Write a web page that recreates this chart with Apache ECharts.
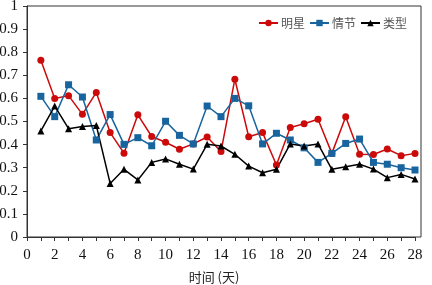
<!DOCTYPE html>
<html>
<head>
<meta charset="utf-8">
<script src="https://cdn.jsdelivr.net/npm/echarts@6/dist/echarts.min.js"></script>
<style>
  html, body { margin: 0; padding: 0; background: #fff; }
  #chart { width: 432px; height: 285px; }
</style>
</head>
<body>
<div id="chart"></div>
<script>
// 时间 (天)
const days = Array.from({ length: 28 }, (_, i) => i + 1);
const starValues = [0.765, 0.60, 0.612, 0.531, 0.626, 0.452, 0.363, 0.529, 0.435, 0.41, 0.38, 0.403, 0.433, 0.37,
  0.683, 0.434, 0.452, 0.312, 0.474, 0.49, 0.51, 0.362, 0.521, 0.358, 0.357, 0.381, 0.352, 0.362];
const plotValues = [0.609, 0.521, 0.659, 0.606, 0.42, 0.53, 0.401, 0.43, 0.395, 0.501, 0.44, 0.403, 0.567, 0.521,
  0.60, 0.568, 0.403, 0.449, 0.42, 0.386, 0.323, 0.362, 0.405, 0.424, 0.323, 0.315, 0.30, 0.29];
const typeValues = [0.459, 0.567, 0.469, 0.478, 0.483, 0.232, 0.293, 0.247, 0.323, 0.338, 0.315, 0.294, 0.401, 0.394,
  0.358, 0.307, 0.278, 0.293, 0.403, 0.394, 0.403, 0.293, 0.304, 0.315, 0.294, 0.257, 0.271, 0.251];
const seriesNames = ["明星", "情节", "类型"];

const chart = echarts.init(document.getElementById("chart"));
const numFont = "'Liberation Serif', 'DejaVu Serif', serif";
const cjkFont = "'Noto Sans CJK SC', sans-serif";

const pairs = (vals) => days.map((d, i) => [d, vals[i]]);

chart.setOption({
  animation: false,
  grid: [
    // outer frame
    { left: 27, right: 11, top: 6, bottom: 48, show: true, borderColor: "#333", borderWidth: 1, outerBoundsMode: "none" },
    // data area
    { left: 27, right: 17, top: 6, bottom: 48, outerBoundsMode: "none" },
  ],
  legend: {
    data: seriesNames,
    right: 20,
    top: 12,
    itemWidth: 19,
    itemHeight: 8,
    itemGap: 4,
    textStyle: { fontFamily: cjkFont, fontSize: 12, color: "#555", padding: [0, 0, 0, -2] },
  },
  xAxis: [
    { gridIndex: 0, type: "value", show: false, min: 0, max: 1 },
    {
      gridIndex: 1,
      type: "value",
      min: 0,
      max: 28,
      interval: 2,
      name: "时间 (天)",
      nameLocation: "middle",
      nameGap: 34,
      nameTextStyle: { fontFamily: cjkFont, fontSize: 13, color: "#222", padding: [0, 14, 0, 0] },
      axisLine: { lineStyle: { color: "#333", width: 1 } },
      axisTick: { inside: false, length: 4, lineStyle: { color: "#333" } },
      minorTick: { show: true, splitNumber: 2, length: 4, lineStyle: { color: "#333" } },
      axisLabel: { margin: 11, fontFamily: numFont, fontSize: 15, color: "#111" },
      splitLine: { show: false },
    },
  ],
  yAxis: [
    { gridIndex: 0, type: "value", show: false, min: 0, max: 1 },
    {
      gridIndex: 1,
      type: "value",
      min: 0,
      max: 1,
      interval: 0.1,
      axisLine: { show: true, lineStyle: { color: "#333", width: 1 } },
      axisTick: { show: true, inside: false, length: 4, lineStyle: { color: "#333" } },
      axisLabel: {
        margin: 9,
        fontFamily: numFont,
        fontSize: 15,
        color: "#111",
        formatter: (v) => String(Math.round(v * 10) / 10),
      },
      splitLine: { show: false },
    },
  ],
  series: [
    {
      name: seriesNames[0],
      type: "line",
      xAxisIndex: 1,
      yAxisIndex: 1,
      data: pairs(starValues),
      symbol: "circle",
      symbolSize: 7,
      color: "#cc0a0a",
      lineStyle: { width: 1.5 },
    },
    {
      name: seriesNames[1],
      type: "line",
      xAxisIndex: 1,
      yAxisIndex: 1,
      data: pairs(plotValues),
      symbol: "rect",
      symbolSize: 7,
      color: "#17649e",
      lineStyle: { width: 1.5 },
    },
    {
      name: seriesNames[2],
      type: "line",
      xAxisIndex: 1,
      yAxisIndex: 1,
      data: pairs(typeValues),
      symbol: "triangle",
      symbolSize: 7,
      color: "#000000",
      lineStyle: { width: 1.5 },
    },
  ],
});
window.addEventListener("resize", () => chart.resize());
</script>
</body>
</html>
